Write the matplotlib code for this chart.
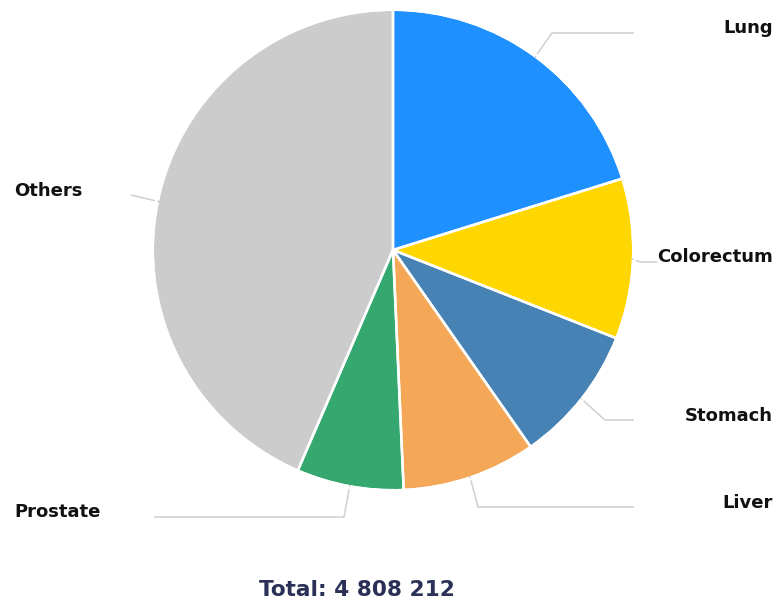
import matplotlib.pyplot as plt
from matplotlib.patches import Wedge
import numpy as np

# (total 4 808 212)
labels = ['Lung', 'Colorectum', 'Stomach', 'Liver', 'Prostate', 'Others']
values = [971000, 519000, 447000, 433000, 346000, 2092212]
colors = ['#1e90ff', '#ffd700', '#4682b4', '#f4a857', '#35a870', '#cccccc']
total_text = 'Total: 4 808 212'

W, H = 776, 599


def Y(y):
    # pixel row (top-down) -> data y
    return H - y


fig = plt.figure(figsize=(W / 100, H / 100), dpi=100)
ax = fig.add_axes([0, 0, 1, 1])
ax.set_xlim(0, W)
ax.set_ylim(0, H)

cx, cy, R = 393, Y(250), 239

# coloured wedges, a bit smaller, with a round-joined stroke of the same
# colour (clipped to the full wedge) to get the rounded corners
wedges, _ = ax.pie(values, colors=colors, startangle=90, counterclock=False,
                   center=(cx, cy), radius=R - 5, frame=True)
for w in wedges:
    w.set_edgecolor(w.get_facecolor())
    w.set_linewidth(10 * 0.72)
    w.set_joinstyle('round')
    clip = Wedge((cx, cy), R, w.theta1, w.theta2)
    w.set_clip_on(True)
    w.set_clip_path(clip.get_path(), ax.transData)

# white separators
ax.pie(values, startangle=90, counterclock=False, center=(cx, cy), radius=R + 3,
       frame=True, wedgeprops=dict(facecolor='none', edgecolor='white',
                                   linewidth=2.5 * 0.72))
ax.set_xlim(0, W)
ax.set_ylim(0, H)
ax.set_aspect('equal')
ax.axis('off')

# leader lines: (elbow, end) in pixels, label anchor
leaders = {
    'Lung': ((552, 33), (634, 33), (773, 33, 'right')),
    'Colorectum': ((640, 262), (657, 262), (773, 262, 'right')),
    'Stomach': ((605, 420), (634, 420), (773, 421, 'right')),
    'Liver': ((478, 507), (634, 507), (773, 508, 'right')),
    'Prostate': ((344, 517), (154, 517), (14, 517, 'left')),
    'Others': ((131, 195), (131, 195), (14, 196, 'left')),
}

for w, lab in zip(wedges, labels):
    mid = np.deg2rad((w.theta1 + w.theta2) / 2)
    sx = cx + R * np.cos(mid)
    sy = cy + R * np.sin(mid)
    (ex, ey), (fx, fy), (tx, ty, ha) = leaders[lab]
    ax.plot([sx, ex, fx], [sy, Y(ey), Y(fy)], color='#d0d0d0', lw=1.1,
            zorder=0, solid_capstyle='butt')
    ax.text(tx, Y(ty), lab, ha=ha, va='baseline', fontsize=13,
            fontweight='bold', color='#111111', family='DejaVu Sans')

ax.text(357, Y(596), total_text, ha='center', va='baseline', fontsize=15.6,
        fontweight='bold', color='#2b3056', family='DejaVu Sans')

fig.savefig('out.png', dpi=100)
